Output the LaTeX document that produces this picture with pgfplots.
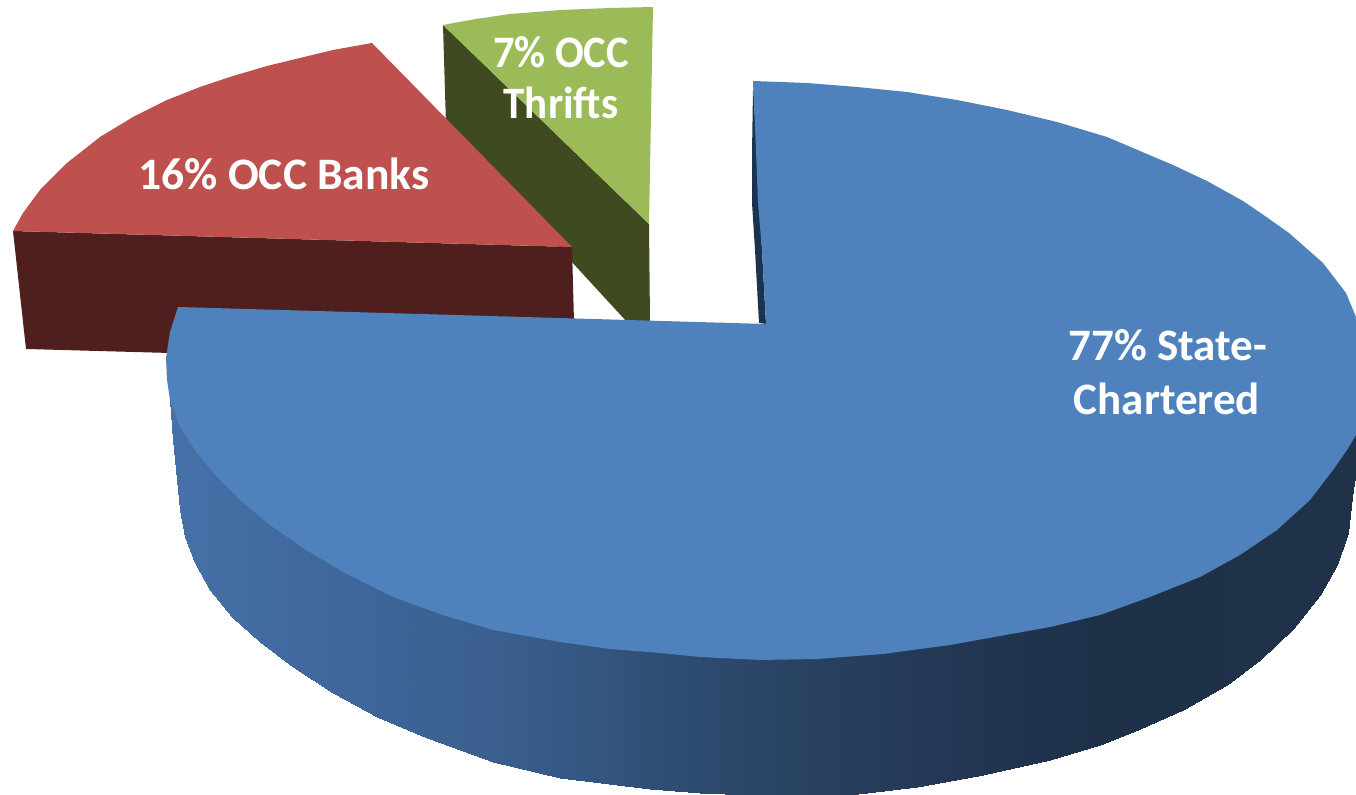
\documentclass[border=0pt]{standalone}
\usepackage{pgfplots}
\pgfplotsset{compat=1.18}
\usepackage{fontspec}
\setmainfont{Carlito}
\definecolor{bluetop}{HTML}{4F81BD}
\definecolor{bluedark}{HTML}{1C3350}
\definecolor{redtop}{HTML}{BE504D}
\definecolor{reddark}{HTML}{4F1F1E}
\definecolor{greentop}{HTML}{9BBB59}
\definecolor{greendark}{HTML}{3F4A20}
\begin{document}
\begin{tikzpicture}
\useasboundingbox (0,0) rectangle (678pt,397.5pt);
\begin{axis}[
  scale only axis, width=678pt, height=397.5pt,
  xmin=0, xmax=1356, ymin=0, ymax=795, y dir=reverse,
  hide axis, no markers,
  colormap={bluewall}{rgb255(170)=(70,113,168) rgb255(300)=(65,105,159) rgb255(400)=(60,100,150) rgb255(500)=(58,95,142) rgb255(600)=(51,85,127) rgb255(660)=(47,78,116) rgb255(800)=(41,66,97) rgb255(1000)=(33,52,80) rgb255(1100)=(31,49,73) rgb255(1356)=(31,50,74)},
]
% green slice
\addplot[fill=greendark,draw=none] coordinates {(443,25)(649,224)(650,322)(627,322)(570,260)(540,230)(446,125)} --cycle;
\addplot[fill=greentop,draw=none] coordinates {(443,25)(476,19)(510,14)(561,10)(610,8)(653,7)(649,224)} --cycle;
% red slice
\addplot[fill=reddark,draw=none] coordinates {(13,231)(572,247)(574,322)(400,340)(170,353)(26,349)} --cycle;
\addplot[fill=redtop,draw=none] coordinates {(372,43)(572,247)(13,231)(23,213)(40,190)(67,163)(100,137)(133,117)(167,100)(200,87)(233,76)(267,66)(300,58)(333,50)} --cycle;
% blue slice: side wall, strips from the outer edge up under the top face
\addplot[patch, patch type=rectangle, shader=interp, point meta=x] coordinates {
(170,400)(173,400)(173,440)(170,400)
(173,400)(177,400)(177,480)(173,440)
(177,400)(180,400)(180,510)(177,480)
(180,400)(185,400)(185,537)(180,510)
(185,400)(195,400)(195,563)(185,537)
(195,400)(210,400)(210,590)(195,563)
(210,400)(232,400)(232,617)(210,590)
(232,400)(260,400)(260,642)(232,617)
(260,400)(293,400)(293,667)(260,642)
(293,400)(333,400)(333,693)(293,667)
(333,400)(377,400)(377,717)(333,693)
(377,400)(427,400)(427,738)(377,717)
(427,400)(493,400)(493,762)(427,738)
(493,400)(560,400)(560,778)(493,762)
(560,400)(650,400)(650,789)(560,778)
(650,400)(700,400)(700,793)(650,789)
(700,400)(750,400)(750,795)(700,793)
(750,400)(850,400)(850,795)(750,795)
(850,400)(917,400)(917,787)(850,795)
(917,400)(983,400)(983,775)(917,787)
(983,400)(1050,400)(1050,760)(983,775)
(1050,400)(1100,400)(1100,745)(1050,760)
(1100,400)(1140,400)(1140,729)(1100,745)
(1140,400)(1183,400)(1183,710)(1140,729)
(1183,400)(1227,400)(1227,685)(1183,710)
(1227,400)(1260,400)(1260,660)(1227,685)
(1260,400)(1293,400)(1293,629)(1260,660)
(1293,400)(1320,400)(1320,595)(1293,629)
(1320,400)(1337,400)(1337,565)(1320,595)
(1337,400)(1348,400)(1348,533)(1337,565)
(1348,400)(1352,400)(1352,497)(1348,533)
(1352,400)(1356,400)(1356,470)(1352,497)
};
\addplot[fill=bluedark,draw=none] coordinates {(753,82)(753,90)(752,153)(752,203)(755,250)(759,323)(766,324)(762,250)} --cycle;
% blue slice: top
\addplot[fill=bluetop,draw=none] coordinates {(753,81)(807,83)(857,87)(907,92)(957,100)(1007,110)(1057,122)(1107,137)(1140,151)(1173,165)(1207,181)(1243,201)(1265,216)(1289,233)(1323,263)(1346,293)(1356,317)(1356,435)(1347,450)(1333,470)(1310,500)(1277,530)(1240,555)(1200,577)(1150,597)(1100,615)(1050,627)(1000,636)(950,645)(883,654)(817,659)(760,660)(700,657)(660,653)(610,649)(560,642)(493,630)(443,615)(393,597)(343,572)(303,548)(270,525)(240,500)(217,477)(197,453)(180,427)(170,400)(167,380)(166,358)(170,332)(178,307)(766,324)(762,250)(758,203)(756,150)} --cycle;
% labels
\node[text=white,xscale=1.012,font=\fontsize{22.5}{27}\selectfont\bfseries] at (axis cs:284,174) {16\% OCC Banks};
\node[text=white,xscale=0.945,font=\fontsize{22.5}{27}\selectfont\bfseries] at (axis cs:561,52) {7\% OCC};
\node[text=white,xscale=0.955,font=\fontsize{22.5}{27}\selectfont\bfseries] at (axis cs:561,103) {Thrifts};
\node[text=white,font=\fontsize{22.5}{27}\selectfont\bfseries] at (axis cs:1168,345) {77\% State-};
\node[text=white,font=\fontsize{22.5}{27}\selectfont\bfseries] at (axis cs:1167,399) {Chartered};
\end{axis}
\end{tikzpicture}
\end{document}
